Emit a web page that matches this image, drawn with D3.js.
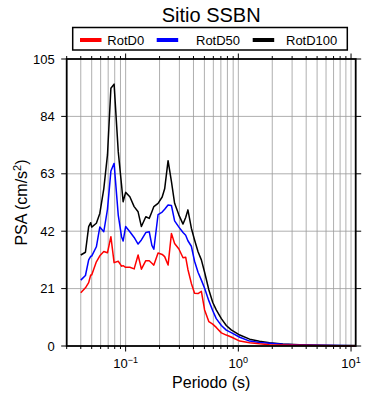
<!DOCTYPE html>
<html>
<head>
<meta charset="utf-8">
<script src="https://cdn.jsdelivr.net/npm/d3@7"></script>
<style>
  html, body { margin: 0; padding: 0; background: #fff; }
  svg text { font-family: "Liberation Sans", Arial, Helvetica, sans-serif; fill: #000; }
</style>
</head>
<body>
<svg id="chart" width="390" height="400"></svg>
<script>
// ---------------- data ----------------
const periods = [0.040, 0.044, 0.047, 0.049, 0.050, 0.055, 0.059, 0.064, 0.069, 0.074,
                 0.079, 0.086, 0.092, 0.095, 0.100, 0.109, 0.119, 0.129, 0.138, 0.151,
                 0.162, 0.171, 0.178, 0.194, 0.211, 0.222, 0.238, 0.255, 0.272, 0.297,
                 0.323, 0.341, 0.357, 0.383, 0.409, 0.439, 0.470, 0.502, 0.548, 0.592,
                 0.637, 0.707, 0.782, 0.865, 1.03, 1.26, 1.54, 1.89, 2.48, 3.48,
                 5.2, 7.9, 11];
const rotD100 = [33.3, 34.3, 43.7, 45.1, 43.5, 44.9, 48.5, 57.5, 69.9, 94.3,
                 95.8, 71.1, 58.9, 52.8, 56.2, 54.6, 51.0, 49.1, 43.7, 47.3,
                 46.7, 49.1, 51.0, 52.2, 54.5, 57.5, 67.8, 60.1, 52.2, 47.9,
                 44.6, 47.0, 49.8, 43.1, 38.8, 34.5, 31.5, 27.0, 20.5, 16.0,
                 13.2, 10.0, 7.5, 5.9, 4.0, 2.5, 1.7, 1.2, 0.7, 0.5,
                 0.3, 0.2, 0.15];
const rotD50 = [24.1, 25.8, 31.5, 32.8, 32.9, 36.3, 43.5, 41.8, 50.0, 64.0,
                66.8, 47.9, 40.0, 38.4, 43.7, 41.8, 39.7, 37.3, 38.8, 41.5,
                41.8, 36.8, 35.4, 48.1, 49.0, 50.0, 51.6, 51.4, 45.8, 43.5,
                41.5, 40.5, 38.5, 36.5, 31.0, 27.0, 24.1, 21.1, 16.5, 13.0,
                10.0, 7.5, 5.8, 4.9, 3.2, 1.8, 1.3, 1.0, 0.6, 0.4,
                0.25, 0.15, 0.1];
const rotD0 = [19.5, 21.3, 23.2, 26.0, 26.0, 30.8, 33.0, 34.6, 34.1, 40.0,
               30.5, 31.0, 29.2, 29.4, 28.8, 28.8, 28.2, 33.3, 28.1, 31.2,
               31.2, 30.3, 29.6, 34.0, 33.5, 32.7, 29.6, 41.2, 37.5, 35.5,
               32.3, 32.5, 28.0, 22.9, 19.3, 19.2, 20.0, 13.2, 8.9, 8.0,
               6.8, 4.8, 4.0, 3.3, 1.8, 1.2, 0.8, 0.5, 0.4, 0.3,
               0.2, 0.1, 0.08];
const seriesNames = ["RotD0", "RotD50", "RotD100"];
const seriesColors = ["#ff0000", "#0000ff", "#000000"];
const yTicks = [0, 21, 42, 63, 84, 105];
const xMajorTicks = [0.1, 1, 10];
const xTickExponents = ["\u22121", "0", "1"];
const title = "Sitio SSBN";
const xLabel = "Periodo (s)";

// ---------------- layout ----------------
const L = 66.7, R = 355.7, T = 59, B = 346;
const svg = d3.select("#chart");
const x = d3.scaleLog().domain([0.03, 11]).range([L, R]);
const y = d3.scaleLinear().domain([0, 105]).range([B, T]);

// grid
const gridX = x.ticks().filter(v => v > 0.03 && v < 11);
svg.append("g").selectAll("line").data(gridX).join("line")
  .attr("x1", d => x(d)).attr("x2", d => x(d)).attr("y1", T).attr("y2", B)
  .attr("stroke", "#9a9a9a").attr("stroke-width", 0.8);
svg.append("g").selectAll("line").data(yTicks.filter(v => v > 0 && v < 105)).join("line")
  .attr("x1", L).attr("x2", R).attr("y1", d => y(d)).attr("y2", d => y(d))
  .attr("stroke", "#9a9a9a").attr("stroke-width", 0.8);

// axes (ticks outward on all sides)
const allX = x.ticks();
const isMajor = v => xMajorTicks.some(m => Math.abs(m - v) / m < 1e-6);
function xTicksAt(yPos, dir) {
  svg.append("g").selectAll("line").data(allX).join("line")
    .attr("x1", d => x(d)).attr("x2", d => x(d))
    .attr("y1", yPos).attr("y2", d => yPos + dir * (isMajor(d) ? 5.5 : 3))
    .attr("stroke", "#000").attr("stroke-width", 1);
}
xTicksAt(B, 1); xTicksAt(T, -1);
function yTicksAt(xPos, dir) {
  svg.append("g").selectAll("line").data(yTicks).join("line")
    .attr("x1", xPos).attr("x2", xPos + dir * 5.5)
    .attr("y1", d => y(d)).attr("y2", d => y(d))
    .attr("stroke", "#000").attr("stroke-width", 1);
}
yTicksAt(L, -1); yTicksAt(R, 1);

// y tick labels
svg.append("g").selectAll("text").data(yTicks).join("text")
  .attr("x", L - 12).attr("y", d => y(d) + 4.5)
  .attr("text-anchor", "end").attr("font-size", 13).text(d => d);

// x tick labels (10^n)
const xl = svg.append("g").selectAll("text").data(xMajorTicks).join("text")
  .attr("x", (d, i) => x(d)).attr("y", 368)
  .attr("text-anchor", "middle").attr("font-size", 13);
xl.append("tspan").text("10");
xl.append("tspan").attr("dy", -5).attr("font-size", 9).text((d, i) => xTickExponents[i]);

// curves
const line = d3.line().x(d => x(d[0])).y(d => y(d[1]));
const seriesData = [rotD0, rotD50, rotD100];
[2, 1, 0].forEach(i => {
  svg.append("path")
    .datum(periods.map((p, j) => [p, seriesData[i][j]]))
    .attr("d", line).attr("fill", "none")
    .attr("stroke", seriesColors[i]).attr("stroke-width", 1.5)
    .attr("stroke-linejoin", "round");
});

// frame
svg.append("rect").attr("x", L).attr("y", T).attr("width", R - L).attr("height", B - T)
  .attr("fill", "none").attr("stroke", "#000").attr("stroke-width", 1.8);

// title
svg.append("text").attr("x", (L + R) / 2).attr("y", 22).attr("text-anchor", "middle")
  .attr("font-size", 20).text(title);

// legend
svg.append("rect").attr("x", 72.7).attr("y", 27.5).attr("width", 274.6).attr("height", 22.5)
  .attr("fill", "#fff").attr("stroke", "#000").attr("stroke-width", 1.5);
const legendSw = [80, 156.7, 252.7];
const legendTx = [107.3, 196, 286];
seriesNames.forEach((n, i) => {
  svg.append("line").attr("x1", legendSw[i]).attr("x2", legendSw[i] + 21.5)
    .attr("y1", 40).attr("y2", 40).attr("stroke", seriesColors[i]).attr("stroke-width", 4);
  svg.append("text").attr("x", legendTx[i]).attr("y", 44.5).attr("font-size", 13).text(n);
});

// axis labels
svg.append("text").attr("x", (L + R) / 2).attr("y", 388).attr("text-anchor", "middle")
  .attr("font-size", 16).text(xLabel);
const yl = svg.append("text").attr("transform", `translate(27,${(T + B) / 2}) rotate(-90)`)
  .attr("text-anchor", "middle").attr("font-size", 16);
yl.append("tspan").text("PSA (cm/s");
yl.append("tspan").attr("dy", -6).attr("font-size", 11).text("2");
yl.append("tspan").attr("dy", 6).text(")");
</script>
</body>
</html>
